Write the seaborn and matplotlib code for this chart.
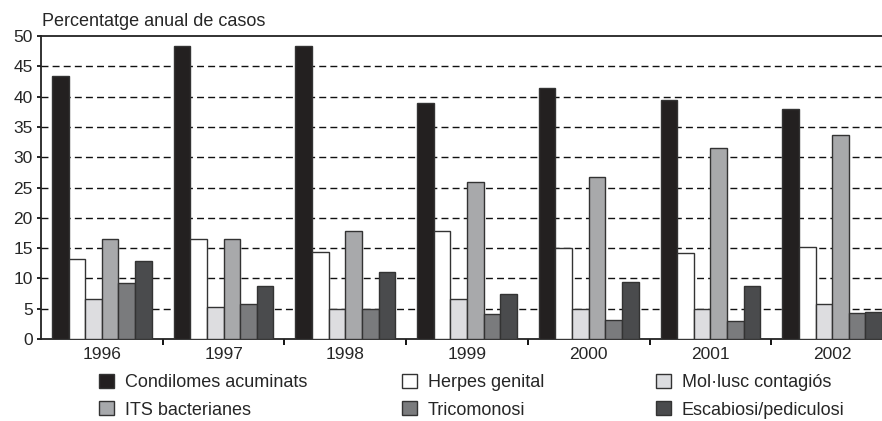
import matplotlib
matplotlib.use("Agg")
import matplotlib.pyplot as plt
import seaborn as sns
import pandas as pd
from matplotlib.patches import Patch
from matplotlib.ticker import MultipleLocator, FixedLocator

years = ["1996", "1997", "1998", "1999", "2000", "2001", "2002"]
series_names = ["Condilomes acuminats", "Herpes genital", "Mol·lusc contagiós",
                "ITS bacterianes", "Tricomonosi", "Escabiosi/pediculosi"]
condilomes = [43.4, 48.4, 48.4, 39.0, 41.4, 39.4, 37.9]
herpes = [13.2, 16.5, 14.4, 17.8, 15.0, 14.2, 15.1]
mollusc = [6.6, 5.3, 5.0, 6.6, 4.9, 4.9, 5.7]
its = [16.5, 16.5, 17.9, 25.9, 26.7, 31.6, 33.6]
trico = [9.3, 5.7, 4.9, 4.1, 3.2, 2.9, 4.3]
escab = [12.9, 8.8, 11.0, 7.5, 9.4, 8.7, 4.5]
colors = ["#231f20", "#ffffff", "#dcdde0", "#a7a9ac", "#7a7b7d", "#4a4b4d"]

values = [condilomes, herpes, mollusc, its, trico, escab]
rows = []
for name, vals in zip(series_names, values):
    for y, v in zip(years, vals):
        rows.append({"year": y, "serie": name, "value": v})
df = pd.DataFrame(rows)

sns.set_style("white")
plt.rcParams["font.family"] = ["Liberation Sans", "DejaVu Sans"]

W, H = 882, 421
fig = plt.figure(figsize=(W / 100, H / 100), dpi=100)
ax_left, ax_right, ax_top, ax_bottom = 41, 893, 36, 339
ax = fig.add_axes([ax_left / W, (H - ax_bottom) / H,
                   (ax_right - ax_left) / W, (ax_bottom - ax_top) / H])

sns.barplot(data=df, x="year", y="value", hue="serie", order=years,
            hue_order=series_names, palette=colors, width=0.82,
            edgecolor="#333333", linewidth=1.0, ax=ax, legend=False, zorder=3)

ax.set_ylim(0, 50)
ax.set_xlim(-0.5, 6.5)
ax.yaxis.set_major_locator(MultipleLocator(5))
for yv in range(5, 50, 5):
    ax.axhline(yv, color="#111111", linestyle=(0, (5, 3)), linewidth=1.0, zorder=1)
ax.set_xlabel("")
ax.set_ylabel("")
ax.tick_params(axis="x", which="major", length=0, labelsize=12.5, pad=6)
ax.xaxis.set_minor_locator(FixedLocator([i + 0.5 for i in range(6)]))
ax.tick_params(axis="x", which="minor", length=4, width=1.3, direction="out", color="black", bottom=True)
ax.tick_params(axis="y", length=3, width=1.2, labelsize=12.5, pad=3, left=True, direction="out", color="black")
for s in ["left", "bottom", "top"]:
    ax.spines[s].set_color("#222222")
    ax.spines[s].set_linewidth(1.3)
ax.spines["right"].set_visible(False)

fig.text(42 / W, 1 - 26 / H, "Percentatge anual de casos", fontsize=13, ha="left", va="baseline")

col_x = [99, 402, 656]
for c in range(3):
    idx = [c, c + 3]
    handles = [Patch(facecolor=colors[i], edgecolor="#333333", linewidth=1.0) for i in idx]
    labels = [series_names[i] for i in idx]
    fig.legend(handles, labels, ncol=1, loc="upper left",
               bbox_to_anchor=(col_x[c] / W, 1 - 374 / H),
               frameon=False, fontsize=13, handlelength=0.83, handleheight=0.83,
               labelspacing=0.55, handletextpad=0.6, borderpad=0, borderaxespad=0)

fig.savefig("out.png", dpi=100)
